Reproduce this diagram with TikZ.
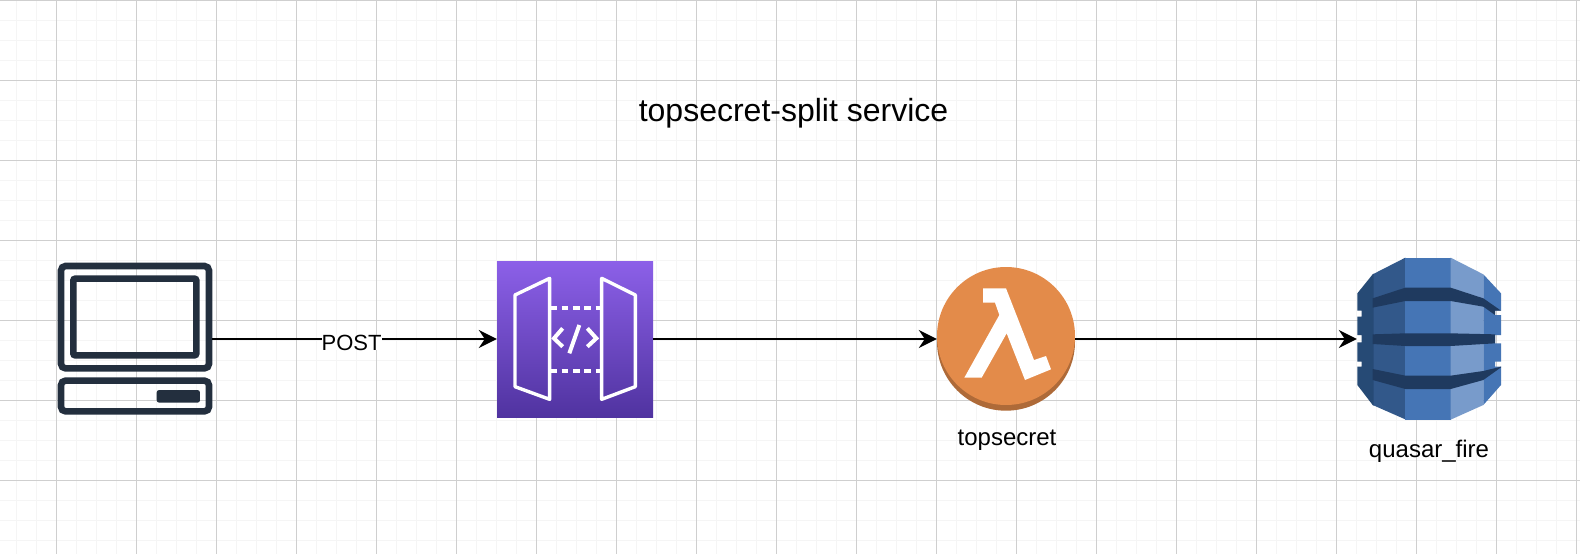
\documentclass[tikz,border=0pt]{standalone}
\usepackage{fontspec}
\setmainfont{Liberation Sans}
\usetikzlibrary{arrows.meta}
\definecolor{iconink}{HTML}{232F3E}
\definecolor{gwtop}{HTML}{8C60E8}
\definecolor{gwbottom}{HTML}{5033A0}
\definecolor{lambdaorange}{HTML}{E38B4A}
\definecolor{lambdadark}{HTML}{AE6A38}
\definecolor{dbmid}{HTML}{4575B5}
\definecolor{dblight}{HTML}{789BCB}
\definecolor{dbshade}{HTML}{32588A}
\definecolor{dbside}{HTML}{264A75}
\definecolor{dbband}{HTML}{1F3A5F}
\tikzset{
	anchorbox/.style={inner sep=0pt,minimum width=#1,minimum height=156pt},
	flow/.style={-{Stealth[length=18pt,width=18pt,inset=6pt]},line width=2pt,black},
	caption/.style={font=\fontsize{24}{28}\selectfont,inner sep=0pt},
	monitorline/.style={draw=iconink,line width=6.6pt,rounded corners=4.5pt},
	gwline/.style={draw=white,line width=3.4pt,line join=round},
}

\begin{document}
\begin{tikzpicture}[x=1pt,y=-1pt]
	
	\fill[white] (0,0) rectangle (1580,554);
	\useasboundingbox (0,0) rectangle (1580,554);
	
	% paper grid
	\foreach \i in {0,...,78} {
		\draw[line width=1.8pt,black!4] ({16.5+20*\i},0)--({16.5+20*\i},554);
	}
	\foreach \i in {0,...,27} {
		\draw[line width=1.8pt,black!4] (0,{0.5+20*\i})--(1580,{0.5+20*\i});
	}
	\foreach \i in {0,...,19} {
		\draw[line width=1pt,black!19] ({56.5+80*\i},0)--({56.5+80*\i},554);
	}
	\foreach \i in {0,...,6} {
		\draw[line width=1pt,black!19] (0,{0.5+80*\i})--(1580,{0.5+80*\i});
	}
	
	\node (title) at (793.5,113) [inner sep=0pt,font=\fontsize{32}{38}\selectfont] {topsecret-split service};
	
	% client
	\node (client) at (135,339) [anchorbox=154.5pt] {};
	\begin{scope}[shift={(40,240)},scale=1/3]
		\draw[monitorline] (63,78) rectangle (507,385);
		\draw[monitorline,rounded corners=2pt] (100,116) rectangle (469,346);
		\draw[monitorline] (63,422) rectangle (507,514);
		\fill[iconink,rounded corners=2.5pt] (350,450) rectangle (480,488);
	\end{scope}
	
	% gateway
	\node (gateway) at (575,339) [anchorbox=156pt] {};
	\shade[top color=gwtop,bottom color=gwbottom] (497,261) rectangle (653,417);
	\begin{scope}[shift={(480,245)},scale=1/3]
		\draw[gwline] (209,100)--(209,463)--(105,425)--(105,150)--cycle;
		\draw[gwline] (365,100)--(365,463)--(466,425)--(466,150)--cycle;
		\draw[draw=white,line width=4pt,dash pattern=on 6.7pt off 4.6pt] (211,190)--(362,190);
		\draw[draw=white,line width=4pt,dash pattern=on 6.7pt off 4.6pt] (211,379)--(362,379);
		\draw[draw=white,line width=4pt] (248,250)--(222,280)--(248,305);
		\draw[draw=white,line width=4pt] (322,250)--(349,280)--(322,305);
		\draw[draw=white,line width=4pt] (298,240)--(268,325);
	\end{scope}
	
	% function
	\node (lambda) at (1006,339) [anchorbox=138pt] {};
	\fill[lambdadark] (1006,341.7) circle (69);
	\fill[lambdaorange] (1006,336) circle (69);
	\begin{scope}[shift={(910,250)},scale=1/3]
		\fill[white] (219,115)--(288,115)--(372,330)--(408,318)--(423,358)--(345,390)--(290,250)--(215,383)--(163,383)--(268,195)--(255,158)--(219,158)--cycle;
	\end{scope}
	\node (lambdalabel) at (1007,440) [caption] {topsecret};
	
	% table
	\node (dynamo) at (1429,339) [anchorbox=144pt] {};
	\begin{scope}[shift={(1330,245)},scale=1/3]
		\fill[dbshade] (128,88)--(226,38)--(228,524)--(128,480)--cycle;
		\fill[dbside] (131,86)--(128,88)--(82,145)--(82,197)--(95,197)--(95,215)--(82,215)--(82,270)--(95,270)--(95,292)--(82,292)--(82,350)--(95,350)--(95,365)--(82,365)--(82,420)--(128,480)--(131,482)--cycle;
		\fill[dbmid] (226,38) rectangle (362,524);
		\fill[dblight] (362,38)--(460,88)--(460,480)--(362,524)--cycle;
		\fill[dbmid] (460,88)--(513,145)--(513,197)--(495,197)--(495,210)--(513,210)--(513,270)--(495,270)--(495,295)--(513,295)--(513,350)--(495,350)--(495,365)--(513,365)--(513,420)--(460,480)--cycle;
		\fill[dbband] (128,160)--(226,128)--(362,128)--(460,160)--(513,197)--(495,197)--(495,210)--(460,185)--(362,168)--(226,168)--(128,188)--cycle;
		\fill[dbband] (128,268)--(226,265)--(362,265)--(495,268)--(495,295)--(362,303)--(226,303)--(128,297)--cycle;
		\fill[dbband] (128,372)--(226,392)--(362,392)--(460,378)--(513,365)--(513,367)--(460,405)--(362,432)--(226,432)--(128,405)--cycle;
	\end{scope}
	\node (dynamolabel) at (1429,451) [caption] {quasar\_fire};
	
	% requests
	\draw[flow] (client) -- (gateway) node[midway,xshift=-3pt,yshift=-3.5pt,fill=white,inner sep=0pt,font=\fontsize{22}{26}\selectfont] (post) {POST};
	\draw[flow] (gateway) -- (lambda);
	\draw[flow] (lambda) -- (dynamo);
	
\end{tikzpicture}
\end{document}
